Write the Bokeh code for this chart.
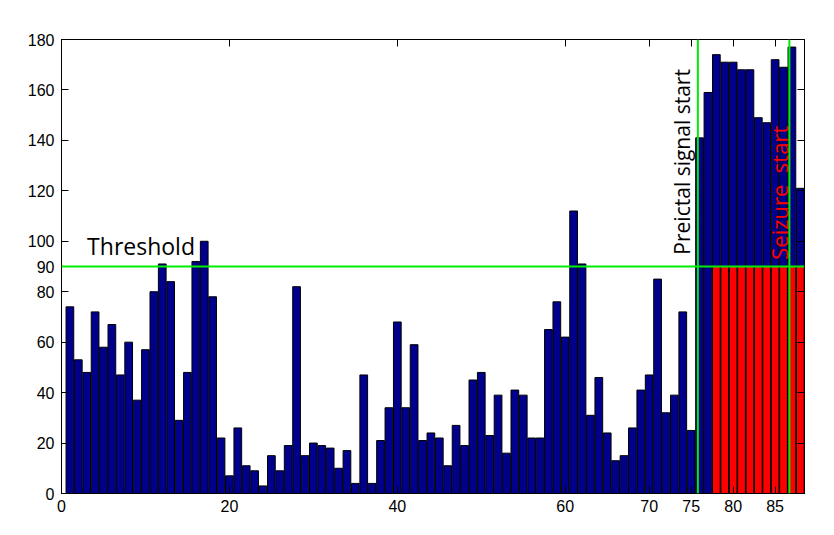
import math
from bokeh.plotting import figure
from bokeh.models import Range1d, LinearAxis, FixedTicker, Span, Label, ColumnDataSource
from bokeh.embed import file_html
from bokeh.resources import INLINE

# ---- data ----
bar_values = [74, 53, 48, 72, 58, 67, 47, 60, 37, 57,
              80, 91, 84, 29, 48, 92, 100, 78, 22, 7,
              26, 11, 9, 3, 15, 9, 19, 82, 15, 20,
              19, 18, 10, 17, 4, 47, 4, 21, 34, 68,
              34, 59, 21, 24, 22, 11, 27, 19, 45, 48,
              23, 39, 16, 41, 39, 22, 22, 65, 76, 62,
              112, 91, 31, 46, 24, 13, 15, 26, 41, 47,
              85, 32, 39, 72, 25, 141, 159, 174, 171, 171,
              168, 168, 149, 147, 172, 169, 177, 121]
bar_index = list(range(1, len(bar_values) + 1))
threshold = 90
seizure_bars = list(range(78, 89))
preictal_start = 75.8
seizure_start = 86.7
x_ticks = [0, 20, 40, 60, 70, 75, 80, 85]
y_ticks = [0, 20, 40, 60, 80, 90, 100, 120, 140, 160, 180]

src = ColumnDataSource(dict(x=bar_index, top=bar_values))
red_src = ColumnDataSource(dict(x=seizure_bars, top=[threshold] * len(seizure_bars)))

p = figure(width=825, height=526, x_range=Range1d(0, 88.5), y_range=Range1d(0, 180),
           output_backend="svg", toolbar_location=None,
           min_border_left=61, min_border_right=21, min_border_top=39, min_border_bottom=33)
p.background_fill_color = "white"
p.border_fill_color = "white"
p.outline_line_color = "black"
p.outline_line_width = 1
p.xgrid.visible = False
p.ygrid.visible = False

p.vbar(x="x", top="top", width=0.92, source=src, fill_color="#00008C", line_color="black", line_width=1)
p.vbar(x="x", top="top", width=0.92, source=red_src, fill_color="#FF0000", line_color="black", line_width=1)

def style_axis(ax, ticks, show_labels):
    ax.ticker = FixedTicker(ticks=ticks)
    ax.major_tick_in = 7
    ax.major_tick_out = 0
    ax.minor_tick_in = 0
    ax.minor_tick_out = 0
    ax.axis_line_color = "black"
    ax.major_tick_line_color = "black"
    ax.major_label_text_font = "Liberation Sans"
    ax.major_label_text_font_size = "16px"
    ax.major_label_text_color = "black"
    if not show_labels:
        ax.major_label_overrides = {t: "" for t in ticks}

style_axis(p.xaxis[0], x_ticks, True)
p.xaxis[0].major_label_standoff = 6
style_axis(p.yaxis[0], y_ticks, True)
p.yaxis[0].major_label_standoff = 7

top_ax = LinearAxis()
style_axis(top_ax, x_ticks, False)
p.add_layout(top_ax, "above")
right_ax = LinearAxis()
style_axis(right_ax, y_ticks, False)
p.add_layout(right_ax, "right")

green = "#00EE00"
p.add_layout(Span(location=threshold, dimension="width", line_color=green, line_width=2))
p.add_layout(Span(location=preictal_start, dimension="height", line_color=green, line_width=2))
p.add_layout(Span(location=seizure_start, dimension="height", line_color=green, line_width=2))

p.add_layout(Label(x=3.05, y=98, text="Threshold", text_font="Open Sans", text_font_size="23px",
                   text_color="black", text_align="left", text_baseline="alphabetic"))
p.add_layout(Label(x=73.9, y=94.7, text="Preictal signal start", angle=math.pi / 2,
                   text_font="Open Sans", text_font_size="21px", text_color="black",
                   text_align="left", text_baseline="alphabetic"))
p.add_layout(Label(x=85.5, y=92.7, text="Seizure\u00a0\u00a0start", angle=math.pi / 2,
                   text_font="Open Sans", text_font_size="22px", text_color="#FF0000",
                   text_align="left", text_baseline="alphabetic"))

open("out.html", "w").write(file_html(p, INLINE))
